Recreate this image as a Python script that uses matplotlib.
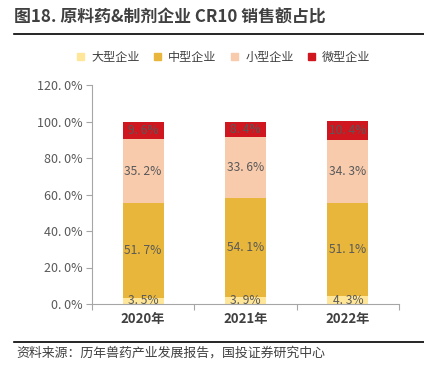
import matplotlib
matplotlib.use("Agg")
import matplotlib.pyplot as plt
from matplotlib.patches import Rectangle
from matplotlib.lines import Line2D
import numpy as np

plt.rcParams['font.family'] = ['Noto Sans CJK SC', 'DejaVu Sans']

categories = ['2020年', '2021年', '2022年']
series_names = ['大型企业', '中型企业', '小型企业', '微型企业']
large = [3.5, 3.9, 4.3]
medium = [51.7, 54.1, 51.1]
small = [35.2, 33.6, 34.3]
micro = [9.6, 8.4, 10.4]
yticks = [0, 20, 40, 60, 80, 100, 120]
colors = ['#FFE699', '#E8B63A', '#F8CBAD', '#D0161F']
title = '图18. 原料药&制剂企业 CR10 销售额占比'
source = '资料来源：历年兽药产业发展报告，国投证券研究中心'

fig = plt.figure(figsize=(4.24, 3.70), dpi=100)
ax = fig.add_axes([92/424, 1-304/370, (399-92)/424, (304-85)/370])

x = np.arange(len(categories))
bottom = np.zeros(len(categories))
label_color = '#595959'
for vals, col in zip([large, medium, small, micro], colors):
    vals = np.array(vals)
    ax.bar(x, vals, 0.4, bottom=bottom, color=col, edgecolor='none')
    for xi, b, v in zip(x, bottom, vals):
        ax.text(xi, b + v/2, f'{v:.1f}%'.replace('.', '. '), ha='center', va='center',
                fontsize=8.7, color=label_color)
    bottom += vals

ax.set_xlim(-0.5, len(categories) - 0.5)
ax.set_ylim(0, 120)
ax.set_yticks(yticks)
ax.set_yticklabels([f'{v:.1f}%'.replace('.', '. ') for v in yticks], fontsize=9, color=label_color)
ax.set_xticks(x)
ax.set_xticklabels(categories, fontsize=9.5, fontweight='bold', color='#404040')
ax.set_xticks(np.arange(len(categories) + 1) - 0.5, minor=True)
ax.tick_params(axis='x', which='major', length=0, pad=6)
ax.tick_params(axis='x', which='minor', length=4, color='#A6A6A6', width=0.8)
ax.tick_params(axis='y', length=4, color='#A6A6A6', width=0.8, pad=3)
for s in ['top', 'right']:
    ax.spines[s].set_visible(False)
for s in ['left', 'bottom']:
    ax.spines[s].set_color('#A6A6A6')
    ax.spines[s].set_linewidth(0.8)

# title
fig.text(14/424, 1-18/370, title, fontsize=12.2, fontweight='bold', color='#404040',
         ha='left', va='center')
fig.add_artist(Line2D([14/424, 1.0], [1-34/370, 1-34/370], color='black', lw=1.2))

# legend
handles = [Rectangle((0, 0), 1, 1, color=c) for c in colors]
fig.legend(handles, series_names, loc='center', bbox_to_anchor=(224/424, 1-57/370), ncol=4,
           frameon=False, fontsize=8.7, handlelength=0.55, handleheight=0.55,
           columnspacing=1.2, handletextpad=0.6, labelcolor='#404040')

# source
fig.add_artist(Line2D([14/424, 1.0], [1-342/370, 1-342/370], color='black', lw=1.2))
fig.text(16/424, 1-353/370, source, fontsize=9.3, style='italic', color='#404040',
         ha='left', va='center')

fig.savefig('out.png', dpi=100)
